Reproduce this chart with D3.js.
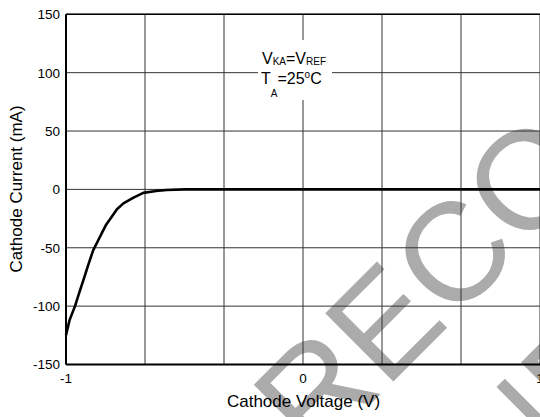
<!DOCTYPE html>
<meta charset="utf-8">
<script src="https://d3js.org/d3.v7.min.js"></script>
<html>
<head>
<style>
body { margin: 0; background: #fff; }
text { font-family: "Liberation Sans", Arial, sans-serif; }
</style>
</head>
<body>
<svg id="chart" width="540" height="417"></svg>

<script>
// data: cathode voltage (V) vs cathode current (mA)
var voltage = [-1, -0.985, -0.962, -0.945, -0.927, -0.905, -0.885, -0.865, -0.849, -0.83, -0.807, -0.785, -0.758, -0.715, -0.674, -0.62, -0.575, -0.5, -0.25, 0, 0.5, 1];
var current = [-125, -112, -100, -89, -78, -64, -52, -44, -37.5, -30, -23.5, -17, -12, -7, -3, -1.3, -0.5, 0, 0, 0, 0, 0];

var xTicks = [-1, 0, 1];
var yTicks = [-150, -100, -50, 0, 50, 100, 150];
var xGrid = [-1, -2/3, -1/3, 0, 1/3, 2/3, 1];

var xTitle = "Cathode Voltage (V)";
var yTitle = "Cathode Current (mA)";

// watermark lines (text, start along baseline, baseline offset) in rotated frame
var wmLines = ["NOT RECOMMENDED", "FOR NEW DESIGN"];
var wmStart = [-436, -335];
var wmBase = [548, 721];

var svg = d3.select("#chart"),
    width = +svg.attr("width"),
    height = +svg.attr("height");

var x = d3.scaleLinear().domain([-1, 1]).range([66, 540]);
var y = d3.scaleLinear().domain([-150, 150]).range([364.5, 14.3]);

// watermark behind everything
svg.append("g")
    .attr("transform", "rotate(-45)")
  .selectAll("text")
  .data(wmLines)
  .enter()
  .append("text")
    .attr("x", function(d, i){ return wmStart[i] })
    .attr("y", function(d, i){ return wmBase[i] })
    .style("font-size", "140px")
    .style("fill", "#ababab")
    .text(function(d){ return d });

// grid
svg.append("g")
  .selectAll("line")
  .data(xGrid)
  .enter()
  .append("line")
    .attr("x1", function(d){ return x(d) })
    .attr("x2", function(d){ return x(d) })
    .attr("y1", y(150))
    .attr("y2", y(-150))
    .style("stroke", "#333")
    .style("stroke-width", 1);

svg.append("g")
  .selectAll("line")
  .data(yTicks)
  .enter()
  .append("line")
    .attr("x1", x(-1))
    .attr("x2", x(1))
    .attr("y1", function(d){ return y(d) })
    .attr("y2", function(d){ return y(d) })
    .style("stroke", "#333")
    .style("stroke-width", 1);

// frame: top, left, bottom
svg.append("line").attr("x1", x(-1)).attr("x2", x(1)).attr("y1", y(150)).attr("y2", y(150))
    .style("stroke", "#000").style("stroke-width", 1.5);
svg.append("line").attr("x1", x(-1)).attr("x2", x(1)).attr("y1", y(-150)).attr("y2", y(-150))
    .style("stroke", "#000").style("stroke-width", 2);
svg.append("line").attr("x1", x(-1)).attr("x2", x(-1)).attr("y1", y(150)).attr("y2", y(-150))
    .style("stroke", "#000").style("stroke-width", 2);

// annotation box
svg.append("rect")
    .attr("x", 258).attr("y", 40)
    .attr("width", 74).attr("height", 60)
    .style("fill", "#fff");

var ann1 = svg.append("text").attr("x", 262).attr("y", 64).style("font-size", "16px");
ann1.append("tspan").text("V");
ann1.append("tspan").attr("dy", 1).style("font-size", "10px").text("KA");
ann1.append("tspan").attr("dy", -1).text("=V");
ann1.append("tspan").attr("dy", 1).style("font-size", "10px").text("REF");

var ann2 = svg.append("text").attr("x", 261).attr("y", 84).style("font-size", "16px");
ann2.append("tspan").text("T");
ann2.append("tspan").attr("dy", 13).style("font-size", "10px").text("A");
ann2.append("tspan").attr("dy", -13).text("=25");
ann2.append("tspan").attr("dy", -6).style("font-size", "10px").text("o");
ann2.append("tspan").attr("dy", 6).text("C");

// data curve
var line = d3.line()
    .x(function(d){ return x(d[0]) })
    .y(function(d){ return y(d[1]) });

svg.append("path")
    .datum(voltage.map(function(v, i){ return [v, current[i]] }))
    .attr("d", line)
    .style("fill", "none")
    .style("stroke", "#000")
    .style("stroke-width", 2.6)
    .style("stroke-linejoin", "round");

// tick labels
svg.append("g")
  .selectAll("text")
  .data(yTicks)
  .enter()
  .append("text")
    .attr("x", 60)
    .attr("y", function(d){ return y(d) })
    .attr("dy", "0.36em")
    .attr("text-anchor", "end")
    .style("font-size", "13.5px")
    .text(function(d){ return d });

svg.append("g")
  .selectAll("text")
  .data(xTicks)
  .enter()
  .append("text")
    .attr("x", function(d){ return x(d) })
    .attr("y", 383)
    .attr("text-anchor", "middle")
    .style("font-size", "13.5px")
    .text(function(d){ return d });

// axis titles
svg.append("text")
    .attr("x", 303.5)
    .attr("y", 407)
    .attr("text-anchor", "middle")
    .style("font-size", "17px")
    .text(xTitle);

svg.append("text")
    .attr("transform", "translate(21.5,189) rotate(-90)")
    .attr("text-anchor", "middle")
    .style("font-size", "17px")
    .text(yTitle);
</script>
</body>
</html>
